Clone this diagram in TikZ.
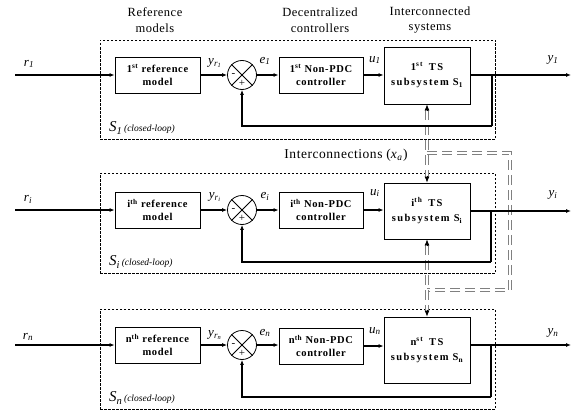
\documentclass[tikz,border=0pt]{standalone}
\usepackage{fontspec}
\setmainfont{Liberation Serif}
\usetikzlibrary{arrows.meta}
\newcommand\iv[2]{\textit{#1}\textsubscript{\textit{#2}}}
\newcommand\yr[1]{\textit{y}\textsubscript{\textit{r}\textsubscript{\textit{#1}}}}
\tikzset{
  blk/.style={draw, line width=0.8pt, minimum width=85pt, minimum height=36pt, inner sep=1pt, align=center,
    font=\addfontfeatures{LetterSpace=6}\bfseries\fontsize{10.5}{13}\selectfont},
  sysblk/.style={draw, line width=0.8pt, minimum width=86pt, inner sep=1pt, align=center,
    font=\addfontfeatures{LetterSpace=14}\bfseries\fontsize{10.5}{15}\selectfont},
  sumnode/.style={draw, circle, line width=0.8pt, minimum size=29pt, inner sep=0pt},
  sig/.style={line width=1.2pt, -{Latex[length=5pt,width=4pt]}},
  fb/.style={line width=1.2pt},
  frame/.style={draw, dash pattern=on 2.5pt off 1.5pt, line width=0.6pt, inner sep=0pt},
  lab/.style={font=\fontsize{13}{13}\selectfont, inner sep=0pt},
  head/.style={font=\addfontfeatures{LetterSpace=4}\fontsize{12.5}{15.5}\selectfont, align=center},
  inter/.style={draw=gray, double=white, double distance=1.4pt, line width=1.5pt, dash pattern=on 10pt off 5pt},
  iarr/.style={line width=0.8pt, -{Latex[length=6pt,width=5pt]}},
  sgn/.style={font=\fontsize{11}{11}\selectfont, inner sep=0pt},
  cl/.style={anchor=west, inner sep=0pt},
}
\begin{document}
\begin{tikzpicture}[x=1pt,y=-1pt]
\useasboundingbox (0,0) rectangle (576,412);

% headings
\node[head] (h1) at (155,20) {Reference\\models};
\node[head] (h2) at (320,20) {Decentralized\\controllers};
\node[head] (h3) at (430,20) {Interconnected\\systems};
\node[font=\addfontfeatures{LetterSpace=4}\fontsize{13.5}{14}\selectfont] (hi) at (346,155) {Interconnections (\textit{x}\textsubscript{\textit{a}})};

% frames
\node[frame, minimum width=395pt, minimum height=99pt] (F1) at (297.5,89.5) {};
\node[frame, minimum width=395pt, minimum height=100pt] (F2) at (297.5,223) {};
\node[frame, minimum width=395pt, minimum height=100pt] (F3) at (297.5,359) {};

% ---------- row 1 ----------
\node[blk] (ref1) at (157.5,75) {1\textsuperscript{st} reference\\model};
\node[sumnode] (sum1) at (242,75) {};
\node[blk, minimum width=84pt] (ctl1) at (321,75) {1\textsuperscript{st} Non-PDC\\controller};
\node[sysblk, minimum height=57pt] (sys1) at (427,75.5) {1\textsuperscript{st}\, TS\\subsystem S\textsubscript{1}};
\coordinate (in1) at (15,75);
\coordinate (out1) at (571,75);
\coordinate (b1) at (492,75);
\coordinate (d1) at (492,126);

% ---------- row i ----------
\node[blk] (ref2) at (157.5,210) {i\textsuperscript{th} reference\\model};
\node[sumnode] (sum2) at (242,210) {};
\node[blk, minimum width=84pt] (ctl2) at (321,210) {i\textsuperscript{th} Non-PDC\\controller};
\node[sysblk, minimum height=56pt] (sys2) at (427,211) {i\textsuperscript{th}\, TS\\subsystem S\textsubscript{i}};
\coordinate (in2) at (15,210);
\coordinate (out2) at (571,211);
\coordinate (b2) at (491,211);
\coordinate (d2) at (491,262);

% ---------- row n ----------
\node[blk] (ref3) at (157.5,345) {n\textsuperscript{th} reference\\model};
\node[sumnode] (sum3) at (242,345) {};
\node[blk, minimum width=84pt] (ctl3) at (321,346) {n\textsuperscript{th} Non-PDC\\controller};
\node[sysblk, minimum height=66pt] (sys3) at (427,350) {n\textsuperscript{st}\, TS\\subsystem S\textsubscript{n}};
\coordinate (in3) at (15,345);
\coordinate (out3) at (571,345);
\coordinate (b3) at (491,345);
\coordinate (d3) at (491,397);

% sum junction details
\foreach \s in {sum1,sum2,sum3}{
  \draw[line width=0.8pt] (\s.north east) -- (\s.south west);
  \draw[line width=0.8pt] (\s.north west) -- (\s.south east);
  \node[sgn] at ([xshift=-8.5pt]\s.center) {-};
  \node[sgn] at ([yshift=-8.5pt]\s.center) {+};
}

% interconnections
\coordinate (J1) at (427,153);
\coordinate (R1) at (510,153);
\coordinate (R2) at (510,290);
\coordinate (J2) at (427,290);
\draw[inter] ([yshift=-6pt]sys1.south) -- (J1) -- ([yshift=6pt]sys2.north);
\draw[inter] (J1) -- (R1) -- (R2) -- (J2);
\draw[inter] ([yshift=-6pt]sys2.south) -- (J2) -- ([yshift=6pt]sys3.north);
\draw[iarr] ([yshift=-7pt]sys1.south) -- (sys1.south);
\draw[iarr] ([yshift=7pt]sys2.north) -- (sys2.north);
\draw[iarr] ([yshift=-7pt]sys2.south) -- (sys2.south);
\draw[iarr] ([yshift=7pt]sys3.north) -- (sys3.north);

% signal lines
\foreach \r in {1,2,3}{
  \draw[sig] (in\r) -- (ref\r.west);
  \draw[sig] (ref\r.east) -- (sum\r.west);
  \draw[sig] (sum\r.east) -- (ctl\r.west |- sum\r.east);
  \draw[sig] (ctl\r.east) -- (sys\r.west |- ctl\r.east);
  \draw[sig] (sys\r.east |- out\r) -- (out\r);
  \draw[fb] (b\r) -- (d\r);
  \draw[sig] (d\r) -| (sum\r.south);
}

% labels row 1
\node[lab] (lr1) at (29,64) {\iv{r}{1}};
\node[lab] (lyr1) at (215,63) {\yr{1}};
\node[lab] (le1) at (265,61) {\iv{e}{1}};
\node[lab] (lu1) at (375,60) {\iv{u}{1}};
\node[lab] (ly1) at (553,60) {\iv{y}{1}};
% labels row i
\node[lab] (lr2) at (28,199) {\iv{r}{i}};
\node[lab] (lyr2) at (215,197) {\yr{i}};
\node[lab] (le2) at (265,196) {\iv{e}{i}};
\node[lab] (lu2) at (375,193) {\iv{u}{i}};
\node[lab] (ly2) at (553,195) {\iv{y}{i}};
% labels row n
\node[lab] (lr3) at (28,337) {\iv{r}{n}};
\node[lab] (lyr3) at (215,335) {\yr{n}};
\node[lab] (le3) at (265,333) {\iv{e}{n}};
\node[lab] (lu3) at (375,331) {\iv{u}{n}};
\node[lab] (ly3) at (553,333) {\iv{y}{n}};

% closed-loop labels
\node[cl] (c1) at (109,128) {{\fontsize{15}{15}\selectfont\iv{S}{1}}\,{\fontsize{9.5}{10}\selectfont\textit{(closed-loop)}}};
\node[cl] (c2) at (109,262) {{\fontsize{15}{15}\selectfont\iv{S}{i}}\,{\fontsize{9.5}{10}\selectfont\textit{(closed-loop)}}};
\node[cl] (c3) at (109,398) {{\fontsize{15}{15}\selectfont\iv{S}{n}}\,{\fontsize{9.5}{10}\selectfont\textit{(closed-loop)}}};
\end{tikzpicture}
\end{document}
